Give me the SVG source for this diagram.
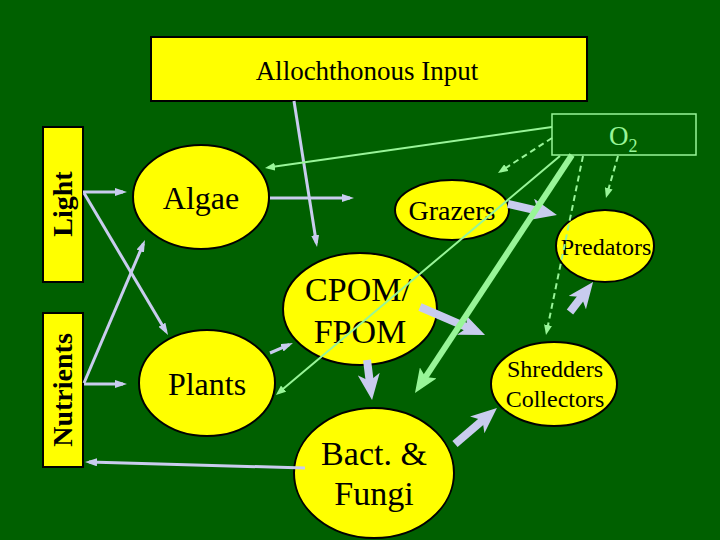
<svg xmlns="http://www.w3.org/2000/svg" width="720" height="540" viewBox="0 0 720 540">
<defs>
<style>
.box{fill:#FFFF00;stroke:#000;stroke-width:2}
.node{fill:#FFFF00;stroke:#000;stroke-width:2}
.t{font-family:"Liberation Serif","Times New Roman",serif;fill:#000;text-anchor:middle}
.tb{font-family:"Liberation Serif","Times New Roman",serif;font-weight:bold;fill:#000;text-anchor:middle}
.lav{stroke:#C8CCEE;stroke-width:3;fill:none;marker-end:url(#mLav)}
.lavT{stroke:#C8CCEE;stroke-width:8;fill:none;marker-end:url(#mLavT)}
.gr{stroke:#98F598;stroke-width:2;fill:none;marker-end:url(#mGr)}
.grd{stroke:#98F598;stroke-width:2;fill:none;stroke-dasharray:6,4;marker-end:url(#mGr)}
.grT{stroke:#98F598;stroke-width:6;fill:none;marker-end:url(#mGrT)}
</style>
<marker id="mLav" viewBox="0 0 12 8" refX="8" refY="4" markerWidth="12" markerHeight="8" markerUnits="userSpaceOnUse" orient="auto"><path d="M0,0 L12,4 L0,8 z" fill="#C8CCEE"/></marker>
<marker id="mLavT" viewBox="0 0 26 22" refX="8" refY="11" markerWidth="26" markerHeight="22" markerUnits="userSpaceOnUse" orient="auto"><path d="M0,0 L26,11 L0,22 L7,11 z" fill="#C8CCEE"/></marker>
<marker id="mGr" viewBox="0 0 10 8" refX="7" refY="4" markerWidth="10" markerHeight="8" markerUnits="userSpaceOnUse" orient="auto"><path d="M0,0 L10,4 L0,8 z" fill="#98F598"/></marker>
<marker id="mGrT" viewBox="0 0 24 20" refX="8" refY="10" markerWidth="24" markerHeight="20" markerUnits="userSpaceOnUse" orient="auto"><path d="M0,0 L24,10 L0,20 L5,10 z" fill="#98F598"/></marker>
</defs>
<rect x="0" y="0" width="720" height="540" fill="#006000"/>

<g id="allochthonous">
<rect class="box" x="151" y="37" width="436" height="64"/>
<text class="t" x="367" y="80" font-size="27">Allochthonous Input</text>
</g>
<g id="o2">
<rect x="552" y="114" width="144" height="41" fill="none" stroke="#98F598" stroke-width="1.5"/>
<text x="609" y="145" font-family="Liberation Serif, Times New Roman, serif" font-size="27" fill="#98F598">O<tspan font-size="18" dy="7">2</tspan></text>
</g>
<g id="light">
<rect class="box" x="43" y="127" width="40" height="155"/>
<text class="tb" font-size="28" transform="translate(72,204) rotate(-90)">Light</text>
</g>
<g id="nutrients">
<rect class="box" x="43" y="313" width="40" height="154"/>
<text class="tb" font-size="28" transform="translate(72,390) rotate(-90)">Nutrients</text>
</g>
<g id="algae">
<ellipse class="node" cx="201" cy="197" rx="68" ry="52"/>
<text class="t" x="201" y="209" font-size="32">Algae</text>
</g>
<g id="grazers">
<ellipse class="node" cx="452" cy="210" rx="57" ry="30"/>
<text class="t" x="452" y="220" font-size="28">Grazers</text>
</g>
<g id="predators">
<ellipse class="node" cx="605" cy="246" rx="49" ry="36"/>
<text class="t" x="606" y="255" font-size="24">Predators</text>
</g>
<g id="cpom">
<ellipse class="node" cx="360" cy="309" rx="77" ry="56"/>
<text class="t" x="358" y="301" font-size="34">CPOM/</text>
<text class="t" x="360" y="343" font-size="34">FPOM</text>
</g>
<g id="plants">
<ellipse class="node" cx="207" cy="383" rx="68" ry="53"/>
<text class="t" x="207" y="395" font-size="32">Plants</text>
</g>
<g id="bact">
<ellipse class="node" cx="374" cy="473" rx="80" ry="65"/>
<text class="t" x="374" y="465" font-size="34">Bact. &amp;</text>
<text class="t" x="374" y="505" font-size="34">Fungi</text>
</g>
<g id="shredders">
<ellipse class="node" cx="554" cy="384" rx="63" ry="42"/>
<text class="t" x="555" y="377" font-size="24">Shredders</text>
<text class="t" x="555" y="407" font-size="24">Collectors</text>
</g>

<g id="connectors">
<line class="lav" x1="83" y1="192" x2="123" y2="192"/>
<line class="lav" x1="84" y1="193" x2="166" y2="331.6"/>
<line class="lav" x1="84" y1="383" x2="143.4" y2="243.7"/>
<line class="lav" x1="84" y1="384" x2="123" y2="384"/>
<line class="lav" x1="270" y1="198" x2="350" y2="198"/>
<line class="lav" x1="294" y1="101" x2="316.4" y2="243"/>
<line class="lav" x1="305" y1="468" x2="89" y2="462.1"/>
<line class="lav" stroke-width="4" x1="270" y1="353" x2="289.3" y2="344.6"/>
<line class="lavT" x1="508" y1="204" x2="539.4" y2="211.1"/>
<line class="lavT" x1="420" y1="307" x2="468.5" y2="327.9"/>
<line class="lavT" x1="367" y1="360" x2="369.8" y2="382.1"/>
<line class="lavT" x1="455" y1="444" x2="483.3" y2="419.7"/>
<line class="lavT" x1="570" y1="312" x2="582.1" y2="296.3"/>
<line class="gr" x1="552" y1="127" x2="268" y2="167.6"/>
<line class="grd" x1="552" y1="138" x2="500.5" y2="171.4"/>
<line class="gr" x1="560" y1="156" x2="278.2" y2="393.1"/>
<line class="grT" x1="572" y1="155" x2="423.8" y2="379.6"/>
<line class="grd" x1="583" y1="156" x2="546.6" y2="332"/>
<line class="grd" x1="618" y1="156" x2="606.8" y2="195"/>
</g>
</svg>
